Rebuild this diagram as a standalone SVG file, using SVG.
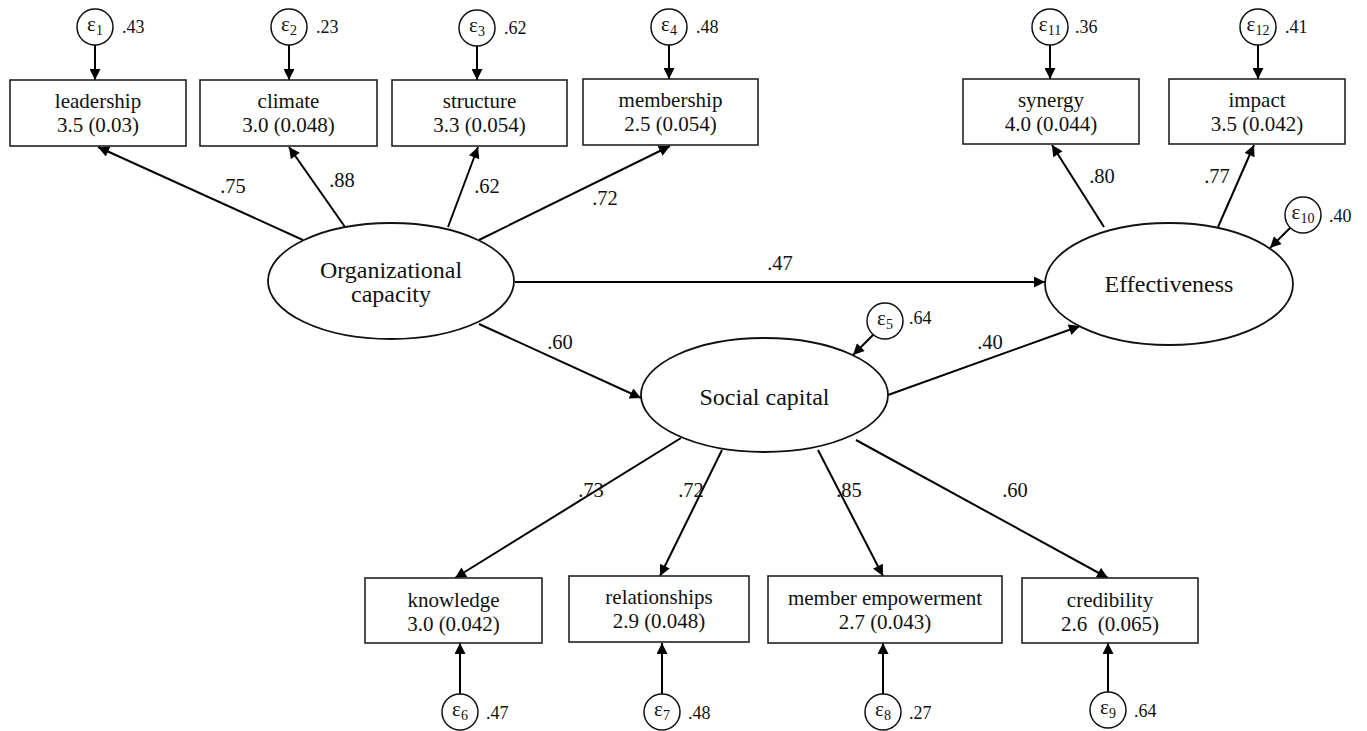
<svg xmlns="http://www.w3.org/2000/svg" width="1367" height="731" viewBox="0 0 1367 731">
<defs>
<marker id="arr" viewBox="0 0 10 10" refX="10" refY="5" markerWidth="12" markerHeight="11" markerUnits="userSpaceOnUse" orient="auto">
<path d="M0,0 L10,5 L0,10 z" fill="#000"/>
</marker>
<style>
text{font-family:"Liberation Serif","Times New Roman",serif;fill:#111}
.box{fill:#fff;stroke:#222;stroke-width:1.6}
.ell{fill:#fff;stroke:#111;stroke-width:1.8}
.eps{fill:#fff;stroke:#111;stroke-width:1.5}
.bt{font-size:21px;text-anchor:middle}
.lt{font-size:24px;text-anchor:middle}
.et{font-size:21px;text-anchor:middle}
.sub{font-size:14px}
.ev{font-size:18px}
.el{font-size:20.5px;text-anchor:middle}
.c line{stroke:#000;stroke-width:2;marker-end:url(#arr)}
</style>
</defs>
<rect width="1367" height="731" fill="#fff"/>

<g id="connectors" class="c">
<line x1="95" y1="45" x2="95" y2="80"/>
<line x1="289" y1="45" x2="289" y2="80"/>
<line x1="477" y1="45" x2="477" y2="80"/>
<line x1="669" y1="45" x2="669" y2="79"/>
<line x1="1050" y1="45" x2="1050" y2="79"/>
<line x1="1258" y1="45" x2="1258" y2="79"/>
<line x1="303" y1="240" x2="98" y2="147"/>
<line x1="345" y1="227" x2="289" y2="147"/>
<line x1="448" y1="227" x2="478" y2="147"/>
<line x1="479" y1="240" x2="670" y2="146"/>
<line x1="515" y1="282" x2="1045" y2="282"/>
<line x1="479" y1="324" x2="641" y2="398"/>
<line x1="888" y1="395" x2="1080" y2="326"/>
<line x1="1104" y1="227" x2="1052" y2="145"/>
<line x1="1218" y1="227" x2="1254" y2="145"/>
<line x1="1290" y1="228" x2="1270" y2="248"/>
<line x1="874" y1="334" x2="853" y2="355"/>
<line x1="681" y1="438" x2="455" y2="578"/>
<line x1="722" y1="450" x2="660" y2="576"/>
<line x1="818" y1="450" x2="883" y2="576"/>
<line x1="856" y1="440" x2="1108" y2="578"/>
<line x1="460" y1="694" x2="460" y2="643"/>
<line x1="662" y1="694" x2="662" y2="643"/>
<line x1="883" y1="694" x2="883" y2="643"/>
<line x1="1108" y1="692" x2="1108" y2="643"/>
</g>

<g id="edge-labels">
<text class="el" x="233" y="193">.75</text>
<text class="el" x="342" y="187">.88</text>
<text class="el" x="487" y="193">.62</text>
<text class="el" x="605" y="205">.72</text>
<text class="el" x="780" y="270">.47</text>
<text class="el" x="560" y="349">.60</text>
<text class="el" x="990" y="349">.40</text>
<text class="el" x="1102" y="183">.80</text>
<text class="el" x="1217" y="183">.77</text>
<text class="el" x="591" y="497">.73</text>
<text class="el" x="691" y="497">.72</text>
<text class="el" x="849" y="497">.85</text>
<text class="el" x="1015" y="497">.60</text>
</g>

<g id="leadership"><rect class="box" x="10" y="80" width="176" height="66"/><text class="bt" x="98" y="108">leadership</text><text class="bt" x="98" y="132">3.5 (0.03)</text></g>
<g id="climate"><rect class="box" x="200" y="80" width="177" height="66"/><text class="bt" x="288.5" y="108">climate</text><text class="bt" x="288.5" y="132">3.0 (0.048)</text></g>
<g id="structure"><rect class="box" x="392" y="80" width="175" height="66"/><text class="bt" x="479.5" y="108">structure</text><text class="bt" x="479.5" y="132">3.3 (0.054)</text></g>
<g id="membership"><rect class="box" x="583" y="79" width="175" height="66"/><text class="bt" x="670.5" y="107">membership</text><text class="bt" x="670.5" y="131">2.5 (0.054)</text></g>
<g id="synergy"><rect class="box" x="963" y="79" width="176" height="65"/><text class="bt" x="1051" y="107">synergy</text><text class="bt" x="1051" y="131">4.0 (0.044)</text></g>
<g id="impact"><rect class="box" x="1169" y="79" width="176" height="65"/><text class="bt" x="1257" y="107">impact</text><text class="bt" x="1257" y="131">3.5 (0.042)</text></g>

<g id="knowledge"><rect class="box" x="365" y="578" width="177" height="65"/><text class="bt" x="453.5" y="607">knowledge</text><text class="bt" x="453.5" y="631">3.0 (0.042)</text></g>
<g id="relationships"><rect class="box" x="569" y="576" width="180" height="66"/><text class="bt" x="659" y="604">relationships</text><text class="bt" x="659" y="628">2.9 (0.048)</text></g>
<g id="member-empowerment"><rect class="box" x="768" y="576" width="234" height="67"/><text class="bt" x="885" y="605">member empowerment</text><text class="bt" x="885" y="629">2.7 (0.043)</text></g>
<g id="credibility"><rect class="box" x="1022" y="578" width="176" height="65"/><text class="bt" x="1110" y="607">credibility</text><text class="bt" x="1110" y="631" xml:space="preserve">2.6  (0.065)</text></g>

<g id="org-capacity"><ellipse class="ell" cx="391" cy="281" rx="123" ry="58"/><text class="lt" x="391" y="278">Organizational</text><text class="lt" x="391" y="302">capacity</text></g>
<g id="social-capital"><ellipse class="ell" cx="764.5" cy="395" rx="123.5" ry="57"/><text class="lt" x="764.5" y="405">Social capital</text></g>
<g id="effectiveness"><ellipse class="ell" cx="1169" cy="284" rx="124" ry="61"/><text class="lt" x="1169" y="292">Effectiveness</text></g>

<g id="e1"><circle class="eps" cx="95" cy="27" r="18"/><text class="et" x="95" y="31">ε<tspan class="sub" dy="4">1</tspan></text><text class="ev" x="122" y="33">.43</text></g>
<g id="e2"><circle class="eps" cx="289" cy="27" r="18"/><text class="et" x="289" y="31">ε<tspan class="sub" dy="4">2</tspan></text><text class="ev" x="316" y="33">.23</text></g>
<g id="e3"><circle class="eps" cx="477" cy="28" r="18"/><text class="et" x="477" y="32">ε<tspan class="sub" dy="4">3</tspan></text><text class="ev" x="504" y="34">.62</text></g>
<g id="e4"><circle class="eps" cx="669" cy="27" r="18"/><text class="et" x="669" y="31">ε<tspan class="sub" dy="4">4</tspan></text><text class="ev" x="696" y="33">.48</text></g>
<g id="e11"><circle class="eps" cx="1050" cy="27" r="18"/><text class="et" x="1050" y="31">ε<tspan class="sub" dy="4">11</tspan></text><text class="ev" x="1075" y="33">.36</text></g>
<g id="e12"><circle class="eps" cx="1258" cy="27" r="18"/><text class="et" x="1258" y="31">ε<tspan class="sub" dy="4">12</tspan></text><text class="ev" x="1285" y="33">.41</text></g>
<g id="e10"><circle class="eps" cx="1303" cy="215" r="18"/><text class="et" x="1303" y="219">ε<tspan class="sub" dy="4">10</tspan></text><text class="ev" x="1329" y="222">.40</text></g>
<g id="e5"><circle class="eps" cx="885" cy="321" r="18"/><text class="et" x="885" y="325">ε<tspan class="sub" dy="4">5</tspan></text><text class="ev" x="909" y="324">.64</text></g>
<g id="e6"><circle class="eps" cx="460" cy="712" r="18"/><text class="et" x="460" y="716">ε<tspan class="sub" dy="4">6</tspan></text><text class="ev" x="486" y="719">.47</text></g>
<g id="e7"><circle class="eps" cx="662" cy="712" r="18"/><text class="et" x="662" y="716">ε<tspan class="sub" dy="4">7</tspan></text><text class="ev" x="688" y="719">.48</text></g>
<g id="e8"><circle class="eps" cx="883" cy="712" r="18"/><text class="et" x="883" y="716">ε<tspan class="sub" dy="4">8</tspan></text><text class="ev" x="909" y="719">.27</text></g>
<g id="e9"><circle class="eps" cx="1108" cy="710" r="18"/><text class="et" x="1108" y="714">ε<tspan class="sub" dy="4">9</tspan></text><text class="ev" x="1134" y="717">.64</text></g>
</svg>
